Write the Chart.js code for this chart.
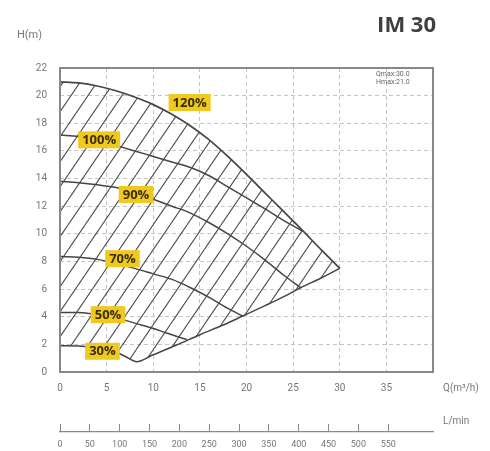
<!DOCTYPE html>
<html><head><meta charset="utf-8">
<script src="https://cdn.jsdelivr.net/npm/chart.js@4.4.1/dist/chart.umd.min.js"></script>
<style>html,body{margin:0;padding:0;background:#fff;}#wrap{width:490px;height:451px;}</style>
</head><body><div id="wrap"><canvas id="c" width="490" height="451"></canvas></div>
<script>
// Q (m3/h) and H (m) values
const outerQ = [0, 2, 4, 6, 8, 10, 12, 14, 16, 18, 20, 22, 24, 26, 28, 30];
const outerH = [21.0, 20.92, 20.7, 20.35, 19.9, 19.35, 18.65, 17.8, 16.8, 15.6, 14.3, 12.95, 11.6, 10.25, 8.85, 7.5];
const q100 = [0, 2, 4, 6, 8, 10, 12, 14, 16, 18, 20, 22, 24, 26];
const h100 = [17.15, 17.05, 16.8, 16.4, 16.0, 15.6, 15.2, 14.8, 14.2, 13.4, 12.6, 11.8, 10.95, 10.2];
const q90 = [0, 2, 4, 6, 8, 10, 12, 14, 16, 18, 20, 22, 24, 25.8];
const h90 = [13.8, 13.7, 13.55, 13.35, 13.0, 12.5, 12.0, 11.5, 10.8, 10.0, 9.1, 8.1, 7.0, 6.1];
const q70 = [0, 2, 4, 6, 8, 10, 12, 14, 16, 18, 19.6];
const h70 = [8.35, 8.3, 8.15, 7.85, 7.5, 7.1, 6.7, 6.1, 5.4, 4.6, 4.05];
const q50 = [0, 2, 4, 6, 7.2, 8.7, 10, 11.5, 13.6];
const h50 = [4.3, 4.3, 4.15, 3.9, 3.7, 3.4, 3.15, 2.8, 2.35];
const qLow = [0, 2, 4, 6, 7.2, 8.2, 10, 12.5, 15, 17.5, 19.6, 22, 24, 25.8, 28, 30];
const hLow = [1.9, 1.88, 1.75, 1.45, 1.05, 0.75, 1.25, 1.95, 2.7, 3.4, 4.05, 4.8, 5.45, 6.1, 6.8, 7.5];

const labelText = ['120%', '100%', '90%', '70%', '50%', '30%'];
const labelQ = [13.9, 4.2, 8.15, 6.7, 5.15, 4.55];
const labelH = [19.5, 16.8, 12.85, 8.2, 4.15, 1.5];

const qTicks = [0, 5, 10, 15, 20, 25, 30, 35];
const hTicks = [0, 2, 4, 6, 8, 10, 12, 14, 16, 18, 20, 22];
const lminTicks = [0, 50, 100, 150, 200, 250, 300, 350, 400, 450, 500, 550];

const pts = (qs, hs) => qs.map((q, i) => ({x: q, y: hs[i]}));

// hatch pattern
const tile = document.createElement('canvas');
tile.width = 17; tile.height = 25;
const tc = tile.getContext('2d');
tc.strokeStyle = '#4a4a4a'; tc.lineWidth = 1.1;
[-17, 0, 17].forEach(o => { tc.beginPath(); tc.moveTo(o, 25); tc.lineTo(o + 17, 0); tc.stroke(); });
const ctx = document.getElementById('c').getContext('2d');
const hatch = ctx.createPattern(tile, 'repeat');

const lineStyle = {showLine: true, pointRadius: 0, borderColor: '#454545', borderWidth: 1.5, cubicInterpolationMode: 'monotone', fill: false};

const frame = {
  id: 'frame',
  afterDatasetsDraw(chart) {
    const {ctx, chartArea: a} = chart;
    ctx.save(); ctx.strokeStyle = '#888'; ctx.lineWidth = 2;
    ctx.strokeRect(a.left, a.top, a.right - a.left, a.bottom - a.top);
    ctx.restore();
  }
};
const labels = {
  id: 'labels',
  afterDatasetsDraw(chart) {
    const {ctx, scales: {x, y}} = chart;
    ctx.save();
    ctx.font = '700 13px "Open Sans"';
    ctx.textAlign = 'center'; ctx.textBaseline = 'middle';
    labelText.forEach((t, i) => {
      const px = x.getPixelForValue(labelQ[i]), py = y.getPixelForValue(labelH[i]);
      const w = ctx.measureText(t).width + 8, h = 17;
      ctx.fillStyle = '#EFC91F'; ctx.fillRect(px - w / 2, py - h / 2, w, h);
      ctx.fillStyle = '#3a2e00'; ctx.fillText(t, px, py + 0.5);
    });
    ctx.restore();
  }
};
const texts = {
  id: 'texts',
  afterDraw(chart) {
    const c = chart.ctx;
    c.save();
    c.fillStyle = '#404040'; c.font = '700 22px "Open Sans"'; c.textAlign = 'right'; c.textBaseline = 'alphabetic';
    c.fillText('IM 30', 436, 32);
    c.fillStyle = '#777'; c.textAlign = 'left'; c.textBaseline = 'middle';
    c.font = '11px Roboto'; c.fillText('H(m)', 17, 35);
    c.font = '10px Roboto'; c.fillText('Q(m³/h)', 443, 388); c.fillText('L/min', 443, 421);
    c.font = '7px Roboto'; c.fillStyle = '#666';
    c.fillText('Qmax:30.0', 376, 74); c.fillText('Hmax:21.0', 376, 82);
    c.restore();
  }
};

const clear = 'rgba(0,0,0,0)';
new Chart(ctx, {
  type: 'scatter',
  data: {datasets: [
    Object.assign({}, lineStyle, {label: '120%', data: pts(outerQ, outerH), fill: 1, backgroundColor: hatch, borderWidth: 1.7}),
    Object.assign({}, lineStyle, {label: 'min', data: pts(qLow, hLow)}),
    Object.assign({}, lineStyle, {label: '100%', data: pts(q100, h100)}),
    Object.assign({}, lineStyle, {label: '90%', data: pts(q90, h90)}),
    Object.assign({}, lineStyle, {label: '70%', data: pts(q70, h70)}),
    Object.assign({}, lineStyle, {label: '50%', data: pts(q50, h50)})
  ]},
  options: {
    responsive: false, animation: false,
    layout: {padding: {left: 0, right: 57, top: 68, bottom: 0}},
    plugins: {legend: {display: false}, tooltip: {enabled: false}},
    scales: {
      x: {
        type: 'linear', position: 'bottom', min: 0, max: 40, weight: 0,
        afterBuildTicks: s => { s.ticks = qTicks.map(v => ({value: v})); },
        afterFit: s => { s.height = 60; },
        ticks: {font: {family: 'Roboto', size: 10}, color: '#777', padding: 10, maxRotation: 0, autoSkip: false},
        grid: {color: c => (c.tick && c.tick.value === 0) ? clear : '#c4c4c4', lineWidth: 1, drawTicks: false},
        border: {display: false, dash: [4, 3]}
      },
      x2: {
        type: 'linear', position: 'bottom', min: 0, max: 625, weight: 1,
        afterBuildTicks: s => { s.ticks = lminTicks.map(v => ({value: v})); },
        afterFit: s => { s.height = 19; },
        ticks: {font: {family: 'Roboto', size: 9}, color: '#777', padding: 15, maxRotation: 0, autoSkip: false},
        grid: {drawOnChartArea: false, drawTicks: true, tickLength: -8, tickColor: '#888', tickWidth: 1},
        border: {display: true, color: '#888', width: 1.2}
      },
      y: {
        type: 'linear', min: 0, max: 22,
        afterBuildTicks: s => { s.ticks = hTicks.map(v => ({value: v})); },
        afterFit: s => { s.width = 60; },
        ticks: {font: {family: 'Roboto', size: 10}, color: '#777', padding: 13},
        grid: {color: c => (c.tick && (c.tick.value === 0 || c.tick.value === 22)) ? clear : '#c4c4c4', lineWidth: 1, drawTicks: false},
        border: {display: false, dash: [4, 3]}
      }
    }
  },
  plugins: [frame, labels, texts]
});
</script></body></html>
